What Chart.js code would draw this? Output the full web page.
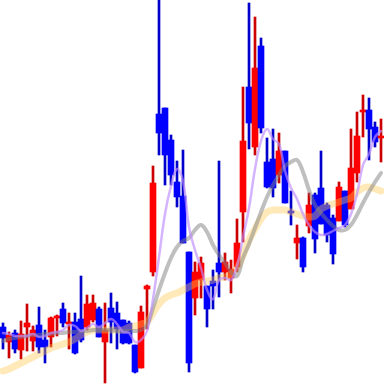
<!DOCTYPE html>
<html>
<head>
<meta charset="utf-8">
<script src="https://cdn.jsdelivr.net/npm/chart.js"></script>
<style>
  html, body { margin: 0; padding: 0; background: #fff; }
  #wrap { width: 384px; height: 384px; }
</style>
</head>
<body>
<div id="wrap"><canvas id="chart" width="384" height="384"></canvas></div>
<script>
// daily candles (price units)
const days = Array.from({ length: 64 }, (_, i) => 'd' + (i + 1));

const openVals = [57,42,51,34,57,43,59,44,47,66, 75,60,62,65,57,64,75,42,76,71,
  64,61,39,16,95,112,270,276,244,202, 188,132,86,104,98,103,121,112,106,117,
  172,297,237,338,222,225,209,233,173,141, 146,158,189,196,179,166,163,193,175,211,
  272,274,257,246];
const highVals = [61,52,54,63,80,58,77,54,67,69, 81,71,71,108,89,89,77,81,91,82,
  64,63,39,78,99,218,384,276,249,223, 234,132,122,127,98,114,223,131,124,165,
  297,381,367,346,246,255,251,233,193,159, 147,191,191,233,181,169,202,193,255,272,
  289,286,262,265];
const lowVals = [35,26,31,25,33,33,31,21,37,48, 57,35,30,42,54,62,47,1,41,35,
  40,40,11,16,55,108,229,199,199,177, 141,12,69,86,57,75,87,104,91,112,
  142,235,229,251,196,187,201,181,159,125, 112,151,131,160,142,120,163,157,175,202,
  247,224,237,222];
const closeVals = [46,49,35,50,61,54,37,37,66,68, 61,62,31,44,80,81,47,54,62,55,
  41,41,12,72,98,201,251,229,209,187, 141,21,112,121,75,98,112,122,115,141,
  243,261,316,256,197,196,233,181,171,146, 117,179,145,160,149,130,197,159,216,248,
  274,255,242,248];

// moving average lines
const maShort = [51,50,48,48,48,50,47,48,51,52, 54,59,58,53,56,60,57,61,65,60,
  52,51,42,44,53,85,127,170,198,215, 203,157,134,116,94,85,104,106,104,118,
  147,176,215,243,255,245,240,213,196,185, 170,159,152,149,150,153,156,159,170,190,
  219,230,247,253];
const maMid = [43,45,46,47,48,49,49,50,50,51, 51,52,52,53,53,54,54,54,54,53,
  53,53,53,54,59,76,94,111,126,137, 143,146,154,159,152,139,129,121,112,108,
  126,140,156,172,187,199,209,218,222,224, 212,194,179,171,164,158,154,154,159,169,
  181,192,202,211];
const maLong = [13,15,18,21,24,27,30,33,36,38, 40,42,45,49,52,54,54,54,54,54,
  54,57,58,60,62,71,80,86,89,91, 94,97,100,102,103,104,106,107,110,116,
  129,144,155,165,172,174,174,174,172,170, 168,167,168,175,178,180,182,184,186,192,
  196,197,195,193];

const isUp = closeVals.map((c, i) => c > openVals[i]);
const bodyColors = isUp.map(u => (u ? '#ff0000' : '#0000ff'));
const wickColors = isUp.map(u => (u ? '#cc0000' : '#0000cc'));

const bodies = openVals.map((o, i) => [Math.min(o, closeVals[i]), Math.max(o, closeVals[i])]);
const wicks = lowVals.map((l, i) => [l, highVals[i]]);

function maLine(data, color, width, order) {
  return {
    type: 'line',
    data,
    borderColor: color,
    borderWidth: width,
    pointRadius: 0,
    tension: 0.4,
    borderCapStyle: 'round',
    borderJoinStyle: 'round',
    fill: false,
    order,
  };
}

new Chart(document.getElementById('chart'), {
  type: 'bar',
  data: {
    labels: days,
    datasets: [
      maLine(maShort, 'rgba(190,140,255,0.65)', 2.5, 0),
      maLine(maMid, 'rgba(128,128,128,0.5)', 4, 1),
      maLine(maLong, 'rgba(255,200,80,0.4)', 7, 2),
      {
        data: bodies,
        backgroundColor: bodyColors,
        barThickness: 6,
        grouped: false,
        order: 3,
      },
      {
        data: wicks,
        backgroundColor: wickColors,
        barThickness: 2,
        grouped: false,
        order: 4,
      },
    ],
  },
  options: {
    responsive: false,
    animation: false,
    layout: { padding: 0 },
    plugins: { legend: { display: false }, tooltip: { enabled: false } },
    scales: {
      x: { display: false, offset: true },
      y: { display: false, min: 0, max: 384 },
    },
  },
});
</script>
</body>
</html>
